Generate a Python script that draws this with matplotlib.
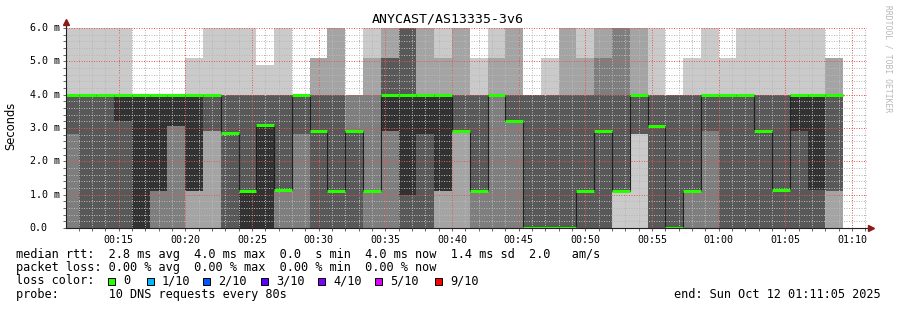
import matplotlib
matplotlib.use('Agg')
import matplotlib.pyplot as plt
from matplotlib.patches import Rectangle
import numpy as np

W, H = 897, 310
MONO = 'DejaVu Sans Mono'

title = 'ANYCAST/AS13335-3v6'
view_start, view_end = '00:11:05', '01:11:05'
first_step = '00:10:40'
step_s = 80

# 10 sorted rtts (ms) per 80 s step
pings_ms = [
    [0, 0, 0, 2.82, 4, 4, 4, 4, 4, 6],
    [0, 0, 0, 0, 4, 4, 4, 4, 4, 6],
    [0, 0, 0, 0, 4, 4, 4, 4, 4, 6],
    [0, 0, 0, 0, 3.2, 4, 4, 4, 4, 6],
    [0, 0, 0, 0, 0, 4, 4, 4, 4, 4],
    [0, 0, 0, 1.1, 1.1, 4, 4, 4, 4, 4],
    [0, 0, 0, 3.05, 3.05, 4, 4, 4, 4, 4],
    [0, 0, 1.1, 1.1, 1.1, 4, 4, 4, 4, 5.1],
    [0, 0, 2.9, 2.9, 4, 4, 4, 4, 4, 6],
    [0, 0, 0, 0, 2.85, 2.85, 4, 4, 4, 6],
    [0, 0, 0, 0, 0, 1.1, 4, 4, 4, 6],
    [0, 0, 0, 0, 0, 3.1, 4, 4, 4, 4.9],
    [0, 0, 0, 1.15, 1.15, 1.15, 4, 4, 4, 6],
    [0, 0, 0, 2.82, 4, 4, 4, 4, 4, 4],
    [0, 0, 0, 0, 2.9, 2.9, 4, 4, 5.1, 5.1],
    [0, 0, 0, 0, 1.1, 1.1, 4, 4, 6, 6],
    [0, 0, 0, 0, 2.9, 2.9, 2.9, 4, 4, 4],
    [0, 0, 0, 1.1, 1.1, 1.1, 1.1, 4, 5.1, 6],
    [0, 0, 0, 2.9, 2.9, 4, 5.1, 5.1, 6, 6],
    [0, 0, 0, 0, 1.0, 4, 6, 6, 6, 6],
    [0, 0, 0, 0, 2.82, 4, 4, 4, 6, 6],
    [0, 0, 1.1, 1.1, 1.1, 4, 4, 4, 5.1, 6],
    [0, 0, 2.9, 2.9, 2.9, 2.9, 4, 4, 6, 6],
    [0, 0, 0, 1.1, 1.1, 1.1, 4, 4, 4, 5.1],
    [0, 0, 0, 4, 4, 4, 4, 4, 5.1, 6],
    [0, 0, 0, 3.2, 3.2, 3.2, 4, 4, 6, 6],
    [0, 0, 0, 0, 0, 0, 4, 4, 4, 4],
    [0, 0, 0, 0, 0, 0, 4, 4, 4, 5.1],
    [0, 0, 0, 0, 0, 0, 4, 4, 6, 6],
    [0, 0, 0, 0, 1.1, 1.1, 4, 4, 5.1, 6],
    [0, 0, 0, 0, 2.9, 2.9, 4, 5.1, 6, 6],
    [0, 1.1, 1.1, 1.1, 1.1, 1.1, 4, 6, 6, 6],
    [0, 2.82, 2.82, 2.82, 4, 4, 4, 4, 6, 6],
    [0, 0, 0, 0, 3.05, 3.05, 4, 4, 4, 6],
    [0, 0, 0, 0, 0, 0, 4, 4, 4, 4],
    [0, 0, 0, 1.1, 1.1, 1.1, 4, 4, 4, 5.1],
    [0, 0, 0, 2.9, 4, 4, 4, 4, 4, 6],
    [0, 0, 0, 0, 4, 4, 4, 4, 4, 5.1],
    [0, 0, 0, 0, 4, 4, 4, 4, 4, 6],
    [0, 0, 0, 0, 2.9, 2.9, 4, 4, 4, 6],
    [0, 0, 0, 0, 1.15, 1.15, 4, 4, 4, 6],
    [0, 0, 0, 0, 2.9, 4, 4, 4, 4, 6],
    [0, 0, 0, 0, 1.15, 4, 4, 4, 4, 6],
    [0, 0, 1.1, 1.1, 4, 4, 4, 4, 5.1, 5.1],
]

median_ms = [4.0, 4.0, 4.0, 4.0, 4.0, 4.0, 4.0, 4.0, 4.0, 2.85,
             1.1, 3.1, 1.15, 4.0, 2.9, 1.1, 2.9, 1.1, 4.0, 4.0,
             4.0, 4.0, 2.9, 1.1, 4.0, 3.2, 0.0, 0.0, 0.0, 1.1,
             2.9, 1.1, 4.0, 3.05, 0.0, 1.1, 4.0, 4.0, 4.0, 2.9,
             1.15, 4.0, 4.0, 4.0]

smoke_colors = ['#cacaca', '#a4a4a4', '#7e7e7e', '#585858', '#323232']
median_color = '#202020'

y_ticks = [0, 1, 2, 3, 4, 5, 6]
y_labels = ['0.0', '1.0 m', '2.0 m', '3.0 m', '4.0 m', '5.0 m', '6.0 m']
x_labels = ['00:15', '00:20', '00:25', '00:30', '00:35', '00:40',
            '00:45', '00:50', '00:55', '01:00', '01:05', '01:10']

legend_rows = [
    'median rtt:  2.8 ms avg  4.0 ms max  0.0  s min  4.0 ms now  1.4 ms sd  2.0   am/s',
    'packet loss: 0.00 % avg  0.00 % max  0.00 % min  0.00 % now',
    'loss color:',
    'probe:       10 DNS requests every 80s',
]
loss_labels = ['0', '1/10', '2/10', '3/10', '4/10', '5/10', '9/10']
loss_colors = ['#26ff00', '#00b8ff', '#0059ff', '#5e00ff', '#7e00ff', '#dd00ff', '#ff0000']
end_text = 'end: Sun Oct 12 01:11:05 2025'


def minutes(s):
    h, m, *rest = [int(p) for p in s.split(':')]
    sec = rest[0] if rest else 0
    return h * 60 + m + sec / 60


def fx(px):
    return px / W


def fy(py):
    return 1 - py / H


pings = np.array(pings_ms)
n = len(pings)
step_m = step_s / 60
edges = minutes(first_step) + np.arange(n + 1) * step_m

ax_left, ax_right = 66.3, 866.5

fig = plt.figure(figsize=(W / 100, H / 100), dpi=100)
fig.patch.set_facecolor('white')
ax = fig.add_axes([fx(ax_left), fy(228), fx(ax_right) - fx(ax_left), fy(28) - fy(228)])

# smoke: nested bands, inner ones darker
for k in range(5):
    lo = pings[:, k]
    hi = pings[:, 9 - k]
    ax.bar(edges[:-1], hi - lo, bottom=lo, width=step_m, align='edge',
           color=smoke_colors[k], linewidth=0, antialiased=False, zorder=0.5)

# median
ax.stairs(median_ms, edges, baseline=None, color=median_color, lw=0.8, zorder=3)
ax.hlines(median_ms, edges[:-1], edges[1:], color=loss_colors[0], lw=2.2, zorder=4)

ax.set_xlim(minutes(view_start), minutes(view_end))
ax.set_ylim(0, 6)
ax.set_xticks([minutes(t) for t in x_labels])
ax.set_xticklabels(x_labels, family=MONO, fontsize=7.2)
ax.set_xticks(np.arange(12, 72), minor=True)
ax.set_yticks(y_ticks)
ax.set_yticklabels([])
ax.set_yticks(np.arange(0, 6.01, 0.2), minor=True)
ax.tick_params(which='both', direction='out', length=2, width=0.7,
               color='#666666', pad=3)

ax.set_axisbelow(False)
ax.grid(which='minor', color=(0.72, 0.72, 0.72, 0.55), ls=(0, (1, 1.5)), lw=0.72)
ax.grid(which='major', color=(0.90, 0.35, 0.35, 0.5), ls=(0, (1, 1.5)), lw=0.72)

for s in ax.spines.values():
    s.set_visible(False)
ax.plot([0, 0], [0, 1.03], transform=ax.transAxes, color='#222222', lw=0.8, clip_on=False, zorder=5)
ax.plot([0, 1.006], [0, 0], transform=ax.transAxes, color='#222222', lw=0.8, clip_on=False, zorder=5)
ax.plot([0], [1.03], marker='^', ms=4, color='#8b1a1a', transform=ax.transAxes, clip_on=False, zorder=6)
ax.plot([1.006], [0], marker='>', ms=4, color='#8b1a1a', transform=ax.transAxes, clip_on=False, zorder=6)

lab_x = (29.5 - ax_left) / (ax_right - ax_left)
for v, lab in zip(y_ticks, y_labels):
    ax.text(lab_x, v, lab, transform=ax.get_yaxis_transform(),
            ha='left', va='center', family=MONO, fontsize=7.2)

fig.text(fx(448), fy(19.5), title, ha='center', va='center', family=MONO, fontsize=9.5)
fig.text(fx(11), fy(126), 'Seconds', rotation=90, ha='center', va='center', fontsize=8.3)
fig.text(fx(887.5), fy(5), 'RRDTOOL / TOBI OETIKER', rotation=270, ha='center', va='top',
         family=MONO, fontsize=5.8, color='#b8b8b8')

row_y = [254.3, 267.7, 281, 294.3]
for txt, y in zip(legend_rows, row_y):
    fig.text(fx(16), fy(y), txt, ha='left', va='center', family=MONO, fontsize=8.55)

box_x = [108, 147, 203, 261, 318, 375, 435]
for bx, lab, col in zip(box_x, loss_labels, loss_colors):
    fig.patches.append(Rectangle((fx(bx), fy(284.5)), fx(7), 7 / H, transform=fig.transFigure,
                                 facecolor=col, edgecolor='black', lw=0.7))
    fig.text(fx(bx + 15), fy(281), lab, ha='left', va='center', family=MONO, fontsize=8.55)

fig.text(fx(881), fy(294.3), end_text, ha='right', va='center', family=MONO, fontsize=8.55)

fig.savefig('out.png', dpi=100, facecolor='white')
